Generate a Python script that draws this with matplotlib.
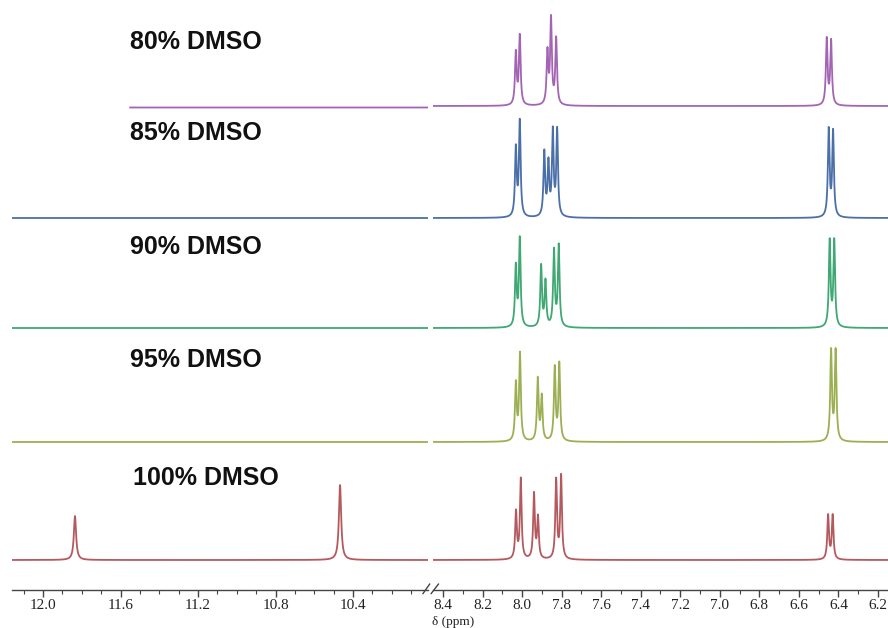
import matplotlib.pyplot as plt
import numpy as np

# stacked 1H NMR spectra of the same compound in DMSO / water mixtures
labels = ["80% DMSO", "85% DMSO", "90% DMSO", "95% DMSO", "100% DMSO"]
colors = ["#a464b4", "#4b6fa8", "#3fa873", "#9cb053", "#b45a5e"]
baselines = [486, 374, 264, 150, 32]

# aromatic region peaks (ppm) and heights, one list per spectrum
arom_ppm = [
    [8.032, 8.012, 7.872, 7.854, 7.828, 6.459, 6.437],
    [8.032, 8.012, 7.888, 7.867, 7.845, 7.823, 6.449, 6.427],
    [8.032, 8.012, 7.904, 7.882, 7.839, 7.815, 6.444, 6.421],
    [8.032, 8.011, 7.921, 7.901, 7.835, 7.812, 6.437, 6.414],
    [8.031, 8.007, 7.940, 7.920, 7.828, 7.803, 6.452, 6.429],
]
arom_height = [
    [52, 69, 52, 85, 66, 66, 64],
    [68, 95, 64, 52, 84, 86, 87, 85],
    [60, 88, 61, 45, 76, 81, 86, 86],
    [57, 87, 62, 44, 73, 77, 90, 90],
    [47, 80, 65, 41, 79, 83, 44, 44],
]

# NH peaks only visible in pure DMSO
nh_ppm = [11.835, 10.467]
nh_height = [44, 75]

label_pos = [(11.55, 550), (11.55, 459), (11.55, 345), (11.55, 232), (11.535, 114)]


def lorentz(x, centres, heights, hw):
    y = np.zeros_like(x)
    for c, h in zip(centres, heights):
        y += h / (1 + ((x - c) / hw) ** 2)
    return y


fig = plt.figure(figsize=(8.88, 6.28), dpi=100)
bottom = (628 - 590) / 628
height = 590 / 628
ax_l = fig.add_axes([12 / 888, bottom, (428 - 12) / 888, height])
ax_r = fig.add_axes([433 / 888, bottom, (888 - 433) / 888, height])

xl = np.linspace(12.16, 10.013, 8000)
xr = np.linspace(8.451, 6.149, 12000)

for i in range(len(labels)):
    # left panel
    if i == 4:
        yl = baselines[i] + lorentz(xl, nh_ppm, nh_height, 0.007)
        ax_l.plot(xl, yl, color=colors[i], lw=1.3)
    elif i == 0:
        part = xl <= 11.55
        ax_l.plot(xl[part], np.full(part.sum(), baselines[i] - 1.5), color=colors[i], lw=1.3)
    else:
        ax_l.plot(xl, np.full(len(xl), baselines[i]), color=colors[i], lw=1.3)
    # right panel
    yr = baselines[i] + lorentz(xr, arom_ppm[i], arom_height[i], 0.005)
    ax_r.plot(xr, yr, color=colors[i], lw=1.3)
    ax_l.text(label_pos[i][0], label_pos[i][1], labels[i], fontsize=18,
              fontweight="bold", family="Liberation Sans", color="#111111",
              va="center", ha="left")

for ax in (ax_l, ax_r):
    ax.set_ylim(2, 592)
    ax.set_yticks([])
    for s in ("top", "left", "right"):
        ax.spines[s].set_visible(False)
    ax.spines["bottom"].set_color("#444444")
    ax.spines["bottom"].set_linewidth(1.0)
    ax.tick_params(axis="x", which="major", length=5, width=1, color="#444444",
                   labelsize=11, labelcolor="#222222", pad=1.5)
    ax.tick_params(axis="x", which="minor", length=3, width=0.8, color="#444444")
    ax.patch.set_alpha(0)

ax_l.set_xlim(12.16, 10.013)
ax_r.set_xlim(8.451, 6.149)

ax_l.set_xticks(np.arange(12.0, 10.3, -0.4))
ax_l.set_xticks(np.arange(12.1, 10.0, -0.1), minor=True)
ax_l.set_xticklabels([f"{v:.1f}" for v in np.arange(12.0, 10.3, -0.4)], family="Liberation Serif")
ax_r.set_xticks(np.arange(8.4, 6.15, -0.2))
ax_r.set_xticks(np.arange(8.4, 6.15, -0.1), minor=True)
ax_r.set_xticklabels([f"{v:.1f}" for v in np.arange(8.4, 6.15, -0.2)], family="Liberation Serif")

# axis break marks
kw = dict(color="#444444", lw=1.0, clip_on=False)
ax_l.plot([1.0 - 0.012, 1.0 + 0.004], [-0.006, 0.01], transform=ax_l.transAxes, **kw)
ax_r.plot([-0.004, 0.012], [-0.006, 0.01], transform=ax_r.transAxes, **kw)

fig.text(432 / 888, 0.5 / 628, "δ (ppm)", family="Liberation Serif",
         fontsize=9.5, color="#222222", ha="left", va="bottom")

fig.savefig("out.png", dpi=100)
